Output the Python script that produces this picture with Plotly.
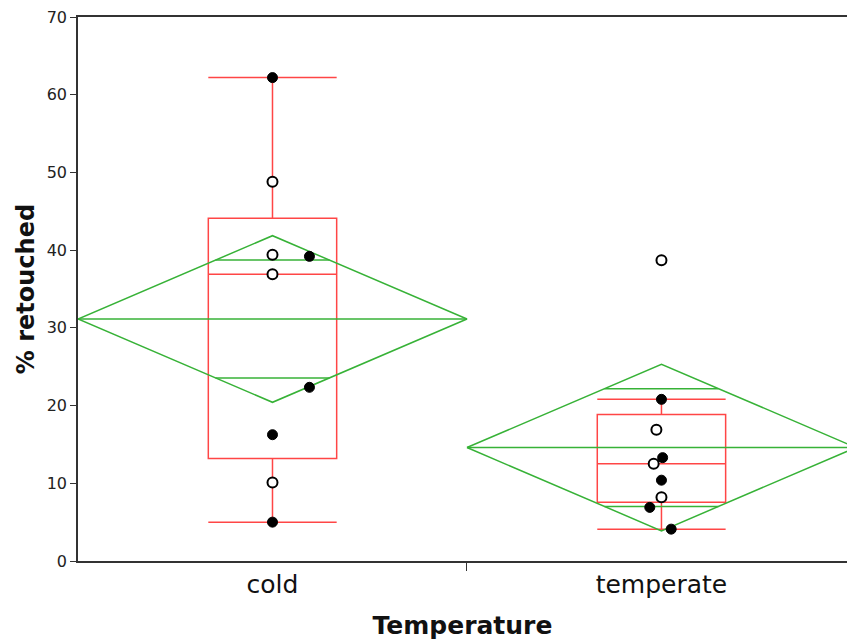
import numpy as np
import plotly.graph_objects as go

# ---- data ----
categories = ["cold", "temperate"]
cold_values = [62.2, 48.8, 39.4, 39.2, 36.9, 22.35, 16.25, 10.1, 5.0]
cold_filled = [True, False, False, True, False, True, True, False, True]
cold_jitter = [0.0, 0.0, 0.0, 0.095, 0.0, 0.095, 0.0, 0.0, 0.0]

temperate_values = [38.7, 20.8, 16.9, 13.3, 12.5, 10.4, 8.2, 6.9, 4.1]
temperate_filled = [False, True, False, True, False, True, False, True, True]
temperate_jitter = [0.0, 0.0, -0.013, 0.003, -0.02, 0.0, 0.0, -0.03, 0.025]

group_means = [31.14, 14.6]
group_ci_half = [10.72, 10.72]   # 95% CI half-width of the mean (means diamond)

RED = "rgb(255,70,70)"
GREEN = "rgb(55,178,55)"

groups = [
    (cold_values, cold_filled, cold_jitter),
    (temperate_values, temperate_filled, temperate_jitter),
]

fig = go.Figure()

def quartiles_exclusive(v):
    s = np.sort(np.asarray(v, float))
    n = len(s)
    med = float(np.median(s))
    lower = s[: n // 2]
    upper = s[(n + 1) // 2:]
    return float(np.median(lower)), med, float(np.median(upper))

for i, (vals, filled, jit) in enumerate(groups):
    center = i + 0.5
    arr = np.asarray(vals, float)
    q1, med, q3 = quartiles_exclusive(vals)
    iqr = q3 - q1
    lf = float(arr[arr >= q1 - 1.5 * iqr].min())
    uf = float(arr[arr <= q3 + 1.5 * iqr].max())
    fig.add_trace(go.Box(
        x=[center], q1=[q1], median=[med], q3=[q3],
        lowerfence=[lf], upperfence=[uf],
        width=0.33, whiskerwidth=1,
        fillcolor="rgba(0,0,0,0)", line=dict(color=RED, width=1.5),
        boxpoints=False, hoverinfo="skip",
    ))

    # means diamond
    m, ci = group_means[i], group_ci_half[i]
    left, right = i, i + 1
    fig.add_trace(go.Scatter(
        x=[left, center, right, center, left], y=[m, m + ci, m, m - ci, m],
        mode="lines", line=dict(color=GREEN, width=1.5), hoverinfo="skip"))
    fig.add_trace(go.Scatter(
        x=[left, right], y=[m, m],
        mode="lines", line=dict(color=GREEN, width=1.5), hoverinfo="skip"))
    ov = ci / np.sqrt(2)
    hw = 0.5 * (1 - ov / ci)
    for yy in (m + ov, m - ov):
        fig.add_trace(go.Scatter(
            x=[center - hw, center + hw], y=[yy, yy],
            mode="lines", line=dict(color=GREEN, width=1.5), hoverinfo="skip"))

    # points
    xs = [center + j for j in jit]
    fig.add_trace(go.Scatter(
        x=[x for x, f in zip(xs, filled) if f],
        y=[v for v, f in zip(vals, filled) if f],
        mode="markers",
        marker=dict(symbol="circle", size=10, color="black",
                    line=dict(color="black", width=1))))
    fig.add_trace(go.Scatter(
        x=[x for x, f in zip(xs, filled) if not f],
        y=[v for v, f in zip(vals, filled) if not f],
        mode="markers",
        marker=dict(symbol="circle", size=10, color="white",
                    line=dict(color="black", width=2))))

fig.update_layout(
    width=847, height=640,
    margin=dict(l=78, r=0, t=17, b=79),
    paper_bgcolor="white", plot_bgcolor="white",
    showlegend=False,
    font=dict(family="DejaVu Sans", color="#222"),
    xaxis=dict(
        range=[0, 1.977], showgrid=False, zeroline=False, automargin=False,
        tickvals=[0.5, 1.5], ticktext=categories, ticks="",
        tickfont=dict(size=25, color="#111"),
        showline=True, linecolor="#333", linewidth=1.5, mirror=True,
        minor=dict(tickvals=[1.0], ticks="outside", ticklen=8,
                   tickcolor="#333", tickwidth=1.2),
        title=dict(text="<b>Temperature</b>", font=dict(size=25, color="#111"),
                   standoff=20),
    ),
    yaxis=dict(
        range=[0, 70], dtick=10, showgrid=False, zeroline=False, automargin=False,
        ticks="outside", ticklen=6, tickcolor="#333", tickwidth=1.2,
        tickfont=dict(size=16, color="#222"),
        showline=True, linecolor="#333", linewidth=1.5,
        title=dict(text="<b>% retouched</b>", font=dict(size=24, color="#111"),
                   standoff=5),
    ),
)

fig.write_html(
    "out.html",
    config={"displayModeBar": False},
    post_script="document.body.style.margin='0';document.body.style.overflow='hidden';",
)
